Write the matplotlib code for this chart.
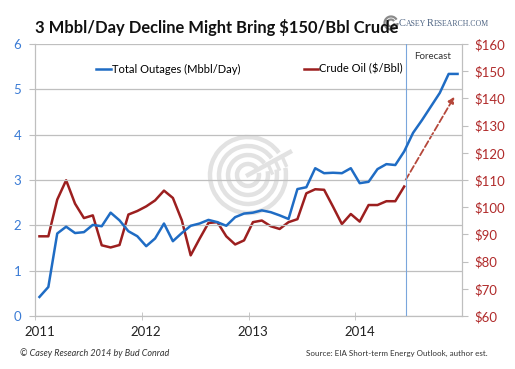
import numpy as np
import matplotlib
matplotlib.use('Agg')
import matplotlib.pyplot as plt
from matplotlib.patches import Arc

plt.rcParams['font.family'] = ['Lato', 'DejaVu Sans']

# Monthly data, Jan 2011 .. Dec 2014 (outages include forecast to Dec 2014)
outages = [0.42, 0.64, 1.82, 1.97, 1.83, 1.85, 2.01, 1.98, 2.28, 2.11, 1.87, 1.76,
           1.54, 1.71, 2.04, 1.65, 1.83, 1.99, 2.04, 2.12, 2.07, 1.99, 2.18, 2.26,
           2.28, 2.33, 2.29, 2.22, 2.14, 2.80, 2.84, 3.26, 3.15, 3.16, 3.15, 3.26,
           2.93, 2.96, 3.24, 3.35, 3.33, 3.63, 4.04, 4.32, 4.62, 4.92, 5.34, 5.34]
crude = [89.3, 89.3, 102.8, 109.9, 101.3, 96.0, 97.0, 86.0, 85.2, 86.1, 97.3, 98.6,
         100.3, 102.5, 106.1, 103.4, 95.2, 82.3, 88.4, 94.2, 94.5, 89.3, 86.3, 87.8,
         94.5, 95.1, 93.0, 92.0, 94.5, 95.6, 105.1, 106.6, 106.4, 100.2, 93.8, 97.5,
         94.7, 100.8, 100.8, 102.2, 102.2, 107.6]
crude_target = 141.5      # where the dashed forecast arrow points
arrow_month = 46.8        # month index of arrow tip
forecast_start = 41.25    # month index of forecast divider
years = [2011, 2012, 2013, 2014]
left_ticks = [0, 1, 2, 3, 4, 5, 6]
right_ticks = list(range(60, 161, 10))

def mx(m):
    return 2011 + (np.asarray(m) + 0.5) / 12.0

blue = '#1f6cc4'
red = '#9c1f1f'
grid_c = '#bfbfbf'
wm_c = '#e2e2e2'
W, H = 515, 369

fig = plt.figure(figsize=(5.15, 3.69), dpi=100)
ax = fig.add_axes([35/W, 1-316/H, 427/W, 272/H])
ax2 = ax.twinx()

# watermark logo (pixel units -> figure fraction)
def px_arc(cx, cy, r, t1, t2, color, lw):
    fig.patches.append(Arc((cx/W, 1-cy/H), 2*r/W, 2*r/H, theta1=t1, theta2=t2,
                           transform=fig.transFigure, color=color, lw=lw, zorder=0))

for r in [38, 29, 20, 11]:
    px_arc(248, 175, r, 45, 375, wm_c, 3.2)
fig.add_artist(plt.Line2D([248/W, 290/W], [1-175/H, 1-152/H], transform=fig.transFigure,
                          color=wm_c, lw=3.2, zorder=0))
for dx in [0, 7, 14]:
    fig.add_artist(plt.Line2D([(268+dx)/W, (272+dx)/W], [1-(164-dx*0.55)/H, 1-(173-dx*0.55)/H],
                              transform=fig.transFigure, color=wm_c, lw=2.5, zorder=0))

ax.set_zorder(ax2.get_zorder()+1)
ax.patch.set_visible(False)

xo = mx(np.arange(len(outages)))
xc = mx(np.arange(len(crude)))
l1, = ax.plot(xo, outages, color=blue, lw=1.8, label='Total Outages (Mbbl/Day)', zorder=4)
l2, = ax2.plot(xc, crude, color=red, lw=1.8, label='Crude Oil ($/Bbl)')

ax2.annotate('', xy=(mx(arrow_month), crude_target), xytext=(xc[-1], crude[-1] + 1.5),
             arrowprops=dict(arrowstyle='-|>', color='#b5473a', lw=1.3, ls='--',
                             mutation_scale=9))

fx = mx(forecast_start)
ax.axvline(fx, color='#7aa6dc', lw=0.8, zorder=3)
ax.text(fx + 0.07, 5.72, 'Forecast', fontsize=7, color='#333333', va='center')

ax.set_xlim(2011, 2015)
ax.set_ylim(0, 6)
ax2.set_ylim(60, 160)
ax.set_yticks(left_ticks)
ax2.set_yticks(right_ticks)
ax2.set_yticklabels(['$%d' % v for v in right_ticks])
ax.grid(axis='y', color=grid_c, lw=0.9)

ax.set_xticks(years, minor=True)
ax.set_xticks([y + 0.5/12 for y in years])
ax.set_xticklabels([str(y) for y in years])
ax.tick_params(axis='x', which='major', length=0, pad=7, labelsize=9.5, labelcolor='#222222')
ax.tick_params(axis='x', which='minor', length=6, direction='inout', color=grid_c)
ax.tick_params(axis='y', length=4, direction='out', color=grid_c, labelsize=9.5,
               labelcolor='#3a7bd5', pad=6)
ax2.tick_params(axis='y', length=4, direction='out', color=grid_c, labelsize=9.5,
                labelcolor='#b02a2a', pad=5)
for a in (ax, ax2):
    for s in a.spines.values():
        s.set_color(grid_c)
    a.spines['top'].set_visible(False)

leg1 = ax.legend(handles=[l1], loc='upper left', bbox_to_anchor=(0.12, 0.965), frameon=False,
                 fontsize=8, handlelength=1.3, handletextpad=0.1)
ax.add_artist(leg1)
ax.legend(handles=[l2], loc='upper right', bbox_to_anchor=(0.885, 0.965), frameon=False,
          fontsize=8, handlelength=1.3, handletextpad=0.1)

fig.text(35/W, 1-27/H, '3 Mbbl/Day Decline Might Bring $150/Bbl Crude', fontsize=11.9,
         fontweight='bold', color='#111111', va='center')

# small logo top right
for r in [6.5, 3.5]:
    px_arc(391, 23, r, 40, 360, '#8a8a8a', 1.6)
logo_c = '#4d6382'
for x, s, fs in [(399, 'C', 7.5), (406, 'ASEY', 5.6), (427, 'R', 7.5), (434, 'ESEARCH.COM', 5.6)]:
    fig.text(x/W, 1-26/H, s, fontsize=fs, family='Liberation Serif', color=logo_c, va='baseline')

fig.text(20/W, 1-353/H, '\u00a9 Casey Research 2014 by Bud Conrad', fontsize=6.5,
         style='italic', color='#333333', va='center')
fig.text(488/W, 1-353/H, 'Source: EIA Short-term Energy Outlook, author est.', fontsize=5.8,
         color='#333333', va='center', ha='right')

fig.savefig('out.png', dpi=100)
